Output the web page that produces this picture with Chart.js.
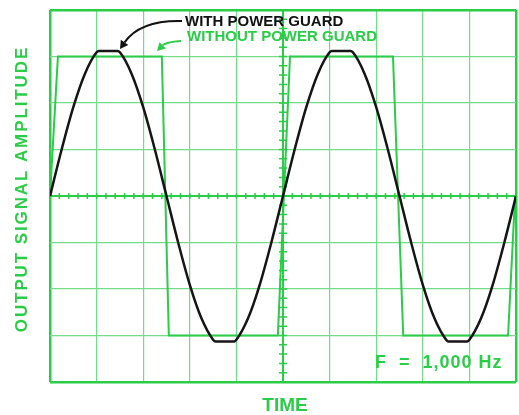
<!DOCTYPE html>
<html>
<head>
<meta charset="utf-8">
<script src="https://cdn.jsdelivr.net/npm/chart.js@4.4.1/dist/chart.umd.min.js"></script>
<style>
  html, body { margin: 0; padding: 0; background: #fff; }
  #wrap { width: 519px; height: 415px; }
</style>
</head>
<body>
<div id="wrap"><canvas id="chart" width="519" height="415"></canvas></div>
<script>
// time in screen divisions, amplitude in divisions
var sineX = [0, 0.25, 0.5, 0.75, 1.0, 1.05, 1.45, 1.5, 1.75, 2.0, 2.25, 2.5,
  2.75, 3.0, 3.25, 3.5, 3.55, 3.95, 4.0, 4.25, 4.5, 4.75, 5.0,
  5.25, 5.5, 5.75, 6.0, 6.05, 6.45, 6.5, 6.75, 7.0, 7.25, 7.5,
  7.75, 8.0, 8.25, 8.5, 8.55, 8.95, 9.0, 9.25, 9.5, 9.75, 10];
var sineY = [0, 1.00, 1.91, 2.63, 3.09, 3.12, 3.12, 3.09, 2.63, 1.91, 1.00, 0,
  -1.00, -1.91, -2.63, -3.09, -3.13, -3.13, -3.09, -2.63, -1.91, -1.00, 0,
  1.00, 1.91, 2.63, 3.09, 3.12, 3.12, 3.09, 2.63, 1.91, 1.00, 0,
  -1.00, -1.91, -2.63, -3.09, -3.13, -3.13, -3.09, -2.63, -1.91, -1.00, 0];

var squareX = [0, 0.17, 2.40, 2.55, 4.89, 5.15, 7.36, 7.58, 9.83, 9.98];
var squareY = [0, 3, 3, -3, -3, 3, 3, -3, -3, 0];

var xTicks = [0, 10];   // 10 divisions across
var yTicks = [-4, 4];   // 8 divisions up
var seriesLabels = ['WITH POWER GUARD', 'WITHOUT POWER GUARD'];

var GREEN = '#2bcc47';
var GRID = '#74dc88';

function pairs(xs, ys) {
  return xs.map(function(x, i) { return {x: x, y: ys[i]}; });
}

// minor tick marks on the centre axes, labels and arrows
var scopePlugin = {
  id: 'scope',
  beforeDatasetsDraw: function(chart) {
    var ctx = chart.ctx, xs = chart.scales.x, ys = chart.scales.y;
    var x0 = xs.getPixelForValue(5), y0 = ys.getPixelForValue(0);
    ctx.save();
    ctx.strokeStyle = GREEN;
    ctx.lineWidth = 1.5;
    ctx.beginPath();
    for (var i = 0; i <= 50; i++) {
      var px = xs.getPixelForValue(i / 5);
      ctx.moveTo(px, y0 - 3); ctx.lineTo(px, y0 + 3);
    }
    for (var j = -20; j <= 20; j++) {
      var py = ys.getPixelForValue(j / 5);
      ctx.moveTo(x0 - 4, py); ctx.lineTo(x0 + 4, py);
    }
    ctx.stroke();
    ctx.restore();
  },
  afterDraw: function(chart) {
    var ctx = chart.ctx, area = chart.chartArea;
    ctx.save();
    ctx.textBaseline = 'alphabetic';

    ctx.font = 'bold 15px "Liberation Sans", Arial, sans-serif';
    ctx.fillStyle = '#111';
    ctx.fillText(seriesLabels[0], 185, 26);
    ctx.fillStyle = GREEN;
    ctx.fillText(seriesLabels[1], 187, 41);

    arrow(ctx, 182, 21, 140, 20, 120, 49, '#111', 2);
    arrow(ctx, 181, 41, 166, 42, 157, 51, GREEN, 2);

    ctx.fillStyle = GREEN;
    ctx.font = 'bold 19px "Liberation Sans", Arial, sans-serif';
    ctx.textAlign = 'center';
    ctx.fillText('TIME', (area.left + area.right) / 2 + 2, 411);

    ctx.textAlign = 'left';
    ctx.font = 'bold 18px "Liberation Sans", Arial, sans-serif';
    ctx.letterSpacing = '1px';
    ctx.fillText('F  =  1,000 Hz', 375, 368);

    ctx.save();
    ctx.translate(27, 189);
    ctx.rotate(-Math.PI / 2);
    ctx.textAlign = 'center';
    ctx.font = 'bold 17px "Liberation Sans", Arial, sans-serif';
    ctx.letterSpacing = '1.9px';
    ctx.fillText('OUTPUT SIGNAL AMPLITUDE', 0, 0);
    ctx.restore();

    ctx.restore();
  }
};

function arrow(ctx, sx, sy, cx, cy, ex, ey, color, w) {
  ctx.save();
  ctx.strokeStyle = color;
  ctx.fillStyle = color;
  ctx.lineWidth = w;
  var dx = ex - cx, dy = ey - cy, len = Math.sqrt(dx * dx + dy * dy);
  var ux = dx / len, uy = dy / len;
  var hx = ex - ux * 8, hy = ey - uy * 8;
  ctx.beginPath();
  ctx.moveTo(sx, sy);
  ctx.quadraticCurveTo(cx, cy, hx, hy);
  ctx.stroke();
  ctx.beginPath();
  ctx.moveTo(ex, ey);
  ctx.lineTo(hx - uy * 4.5, hy + ux * 4.5);
  ctx.lineTo(hx + uy * 4.5, hy - ux * 4.5);
  ctx.closePath();
  ctx.fill();
  ctx.restore();
}

function edgeWidth(min, max, mid) {
  return function(c) {
    var v = c.tick && c.tick.value;
    if (v === min || v === max) return 2.5;
    if (v === mid) return 2;
    return 1.2;
  };
}
function edgeColor(min, max, mid) {
  return function(c) {
    var v = c.tick && c.tick.value;
    return (v === min || v === max || v === mid) ? GREEN : GRID;
  };
}

var chart = new Chart(document.getElementById('chart').getContext('2d'), {
  type: 'line',
  data: {
    datasets: [{
      label: seriesLabels[0],
      data: pairs(sineX, sineY),
      borderColor: '#151515',
      borderWidth: 2.5,
      pointRadius: 0,
      cubicInterpolationMode: 'monotone',
      fill: false
    }, {
      label: seriesLabels[1],
      data: pairs(squareX, squareY),
      borderColor: GREEN,
      borderWidth: 2,
      pointRadius: 0,
      tension: 0,
      fill: false
    }]
  },
  options: {
    responsive: false,
    animation: false,
    layout: { padding: { left: 50, right: 3, top: 10, bottom: 33 } },
    plugins: { legend: { display: false }, tooltip: { enabled: false } },
    scales: {
      x: {
        type: 'linear', min: xTicks[0], max: xTicks[1],
        ticks: { display: false, stepSize: 1 },
        border: { display: false },
        grid: { drawTicks: false, color: edgeColor(0, 10, 5), lineWidth: edgeWidth(0, 10, 5) }
      },
      y: {
        min: yTicks[0], max: yTicks[1],
        ticks: { display: false, stepSize: 1 },
        border: { display: false },
        grid: { drawTicks: false, color: edgeColor(-4, 4, 0), lineWidth: edgeWidth(-4, 4, 0) }
      }
    }
  },
  plugins: [scopePlugin]
});
</script>
</body>
</html>
